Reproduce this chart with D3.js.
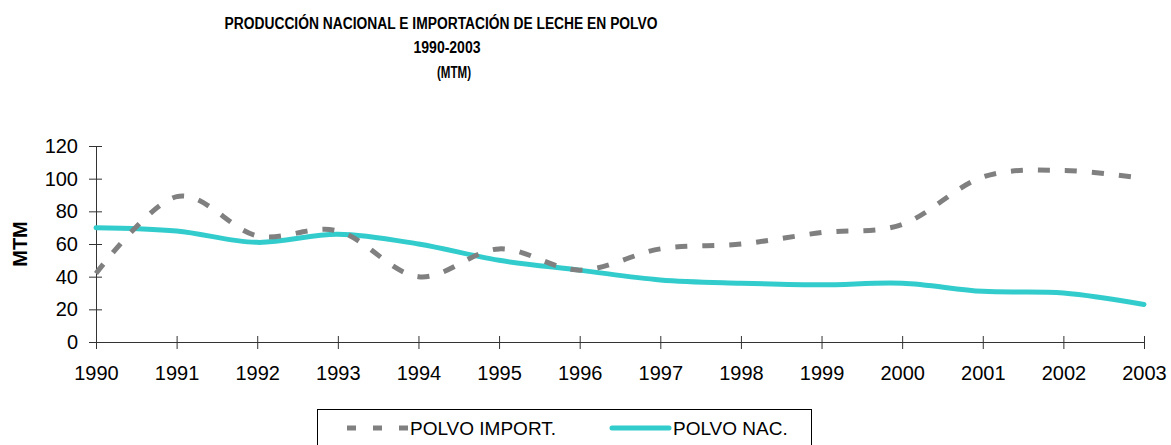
<!DOCTYPE html>
<html>
<head>
<meta charset="utf-8">
<script src="https://cdn.jsdelivr.net/npm/d3@7"></script>
<style>
  body { margin: 0; background: #fff; }
  svg { display: block; font-family: "Liberation Sans", Arial, sans-serif; }
</style>
</head>
<body>
<div id="chart"></div>
<script>
// data
var years = [1990, 1991, 1992, 1993, 1994, 1995, 1996, 1997, 1998, 1999, 2000, 2001, 2002, 2003];
var polvoImport = [42, 89, 65, 68, 40, 57, 44, 57, 60, 67, 72, 101, 105, 100];
var polvoNac = [70, 68, 61, 66, 60, 50, 44, 38, 36, 35, 36, 31, 30, 23];
var yTicks = [0, 20, 40, 60, 80, 100, 120];
var titleLines = ["PRODUCCIÓN NACIONAL E IMPORTACIÓN DE LECHE EN POLVO", "1990-2003", "(MTM)"];
var seriesNames = ["POLVO IMPORT.", "POLVO NAC."];

(function(){
    var width = 1171, height = 445;
    var plotLeft = 96, plotRight = 1144, plotTop = 146, plotBottom = 342;

    var svg = d3.select("#chart")
        .append("svg")
        .attr("width", width)
        .attr("height", height);

    // title (narrow bold, like the original)
    var titleX = [441, 447, 454];
    var titleY = [29, 53, 78];
    var titleW = [433, 67, 34];
    svg.selectAll("text.title")
        .data(titleLines)
        .enter()
        .append("text")
        .classed("title", true)
        .attr("x", function(d, i){ return titleX[i]; })
        .attr("y", function(d, i){ return titleY[i]; })
        .attr("text-anchor", "middle")
        .attr("font-family", "'Liberation Sans Narrow', 'Liberation Sans', Arial, sans-serif")
        .attr("font-size", "16px")
        .attr("font-weight", "bold")
        .attr("textLength", function(d, i){ return titleW[i]; })
        .attr("lengthAdjust", "spacingAndGlyphs")
        .attr("fill", "#000")
        .text(function(d){ return d; });

    var x = d3.scaleLinear().domain([years[0], years[years.length - 1]]).range([plotLeft, plotRight]);
    var y = d3.scaleLinear().domain([0, 120]).range([plotBottom, plotTop]);

    // y axis
    var yAxis = svg.append("g")
        .attr("transform", "translate(" + plotLeft + ",0)")
        .call(d3.axisLeft(y).tickValues(yTicks).tickSize(7).tickSizeOuter(0));
    yAxis.select(".domain").attr("stroke", "#333");
    yAxis.selectAll(".tick line").attr("x2", -7).attr("x1", 6).attr("stroke", "#333");
    yAxis.selectAll(".tick text")
        .attr("x", -18)
        .attr("font-size", "20px")
        .attr("font-family", "Liberation Sans, Arial, sans-serif")
        .attr("fill", "#000");

    // x axis
    var xAxis = svg.append("g")
        .attr("transform", "translate(0," + plotBottom + ")")
        .call(d3.axisBottom(x).tickValues(years).tickFormat(d3.format("d")).tickSize(7).tickSizeOuter(0));
    xAxis.select(".domain").attr("stroke", "#333");
    xAxis.selectAll(".tick line").attr("y1", -6).attr("y2", 7).attr("stroke", "#333");
    xAxis.selectAll(".tick text")
        .attr("y", 24)
        .attr("dy", "0.71em")
        .attr("font-size", "20px")
        .attr("font-family", "Liberation Sans, Arial, sans-serif")
        .attr("fill", "#000");

    // y axis title
    svg.append("text")
        .attr("transform", "translate(27,244) rotate(-90)")
        .attr("text-anchor", "middle")
        .attr("font-size", "20px")
        .attr("font-weight", "bold")
        .attr("fill", "#000")
        .text("MTM");

    // lines
    var line = d3.line()
        .x(function(d, i){ return x(years[i]); })
        .y(function(d){ return y(d); })
        .curve(d3.curveCardinal.tension(0));

    svg.append("path")
        .datum(polvoNac)
        .attr("d", line)
        .attr("fill", "none")
        .attr("stroke", "#33CCCC")
        .attr("stroke-width", 5)
        .attr("stroke-linecap", "round")
        .attr("stroke-linejoin", "round");

    svg.append("path")
        .datum(polvoImport)
        .attr("d", line)
        .attr("fill", "none")
        .attr("stroke", "#808080")
        .attr("stroke-width", 5)
        .attr("stroke-dasharray", "12,15");

    // legend
    var legend = svg.append("g");
    legend.append("rect")
        .attr("x", 317.5)
        .attr("y", 409.5)
        .attr("width", 494)
        .attr("height", 60)
        .attr("fill", "#fff")
        .attr("stroke", "#000")
        .attr("stroke-width", 1);

    legend.append("line")
        .attr("x1", 347).attr("x2", 409)
        .attr("y1", 428).attr("y2", 428)
        .attr("stroke", "#808080")
        .attr("stroke-width", 5)
        .attr("stroke-dasharray", "9,17");

    legend.append("line")
        .attr("x1", 612).attr("x2", 669)
        .attr("y1", 428).attr("y2", 428)
        .attr("stroke", "#33CCCC")
        .attr("stroke-width", 5)
        .attr("stroke-linecap", "round");

    legend.selectAll("text.legend")
        .data(seriesNames)
        .enter()
        .append("text")
        .classed("legend", true)
        .attr("x", function(d, i){ return i == 0 ? 410 : 673; })
        .attr("y", 435)
        .attr("font-size", "19px")
        .attr("fill", "#000")
        .text(function(d){ return d; });
})();
</script>
</body>
</html>
